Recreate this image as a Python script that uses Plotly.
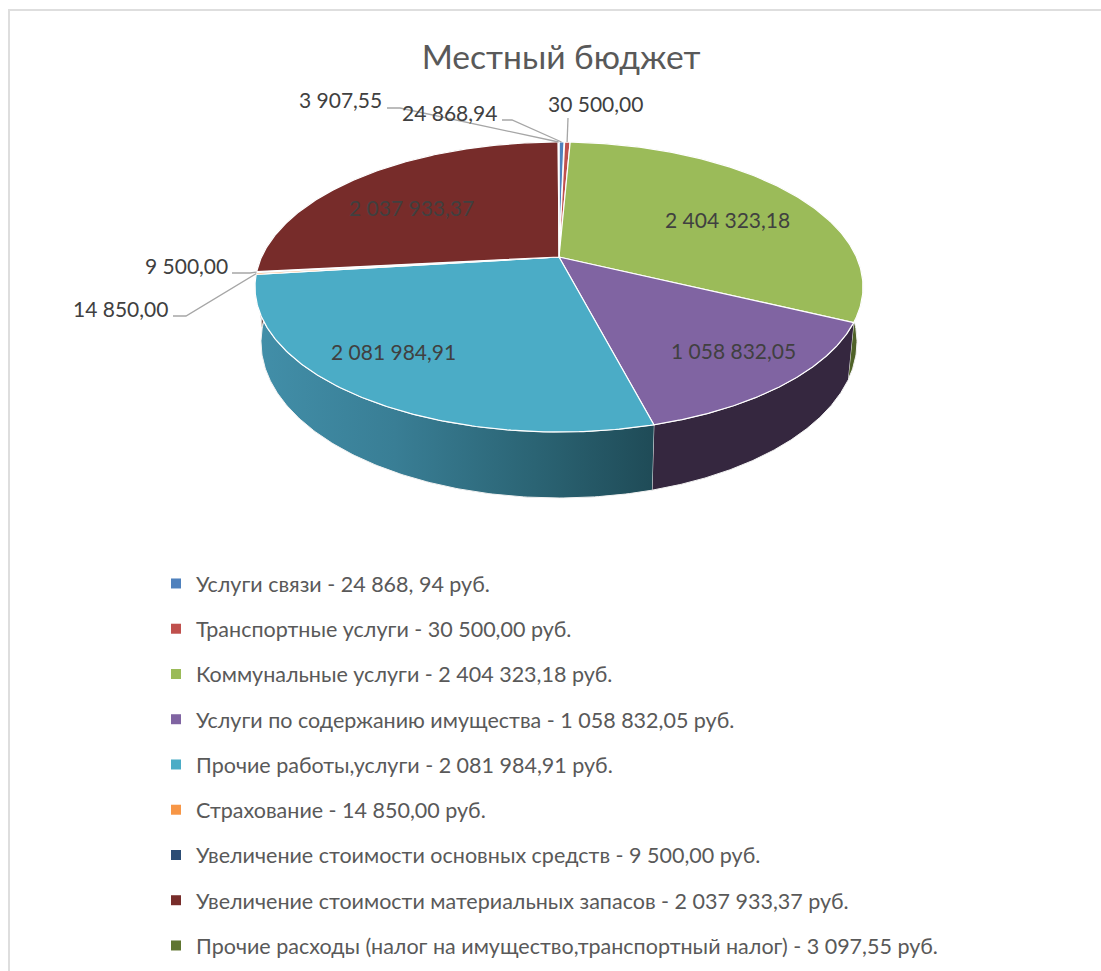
import numpy as np
import plotly.graph_objects as go

# ---------- data ----------
categories = [
    "Услуги связи - 24 868, 94 руб.",
    "Транспортные услуги - 30 500,00 руб.",
    "Коммунальные услуги - 2 404 323,18 руб.",
    "Услуги по содержанию имущества - 1 058 832,05 руб.",
    "Прочие работы,услуги - 2 081 984,91 руб.",
    "Страхование - 14 850,00 руб.",
    "Увеличение стоимости основных средств - 9 500,00 руб.",
    "Увеличение стоимости материальных запасов - 2 037 933,37 руб.",
    "Прочие расходы (налог на имущество,транспортный налог) - 3 097,55 руб.",
]
values = [24868.94, 30500.00, 2404323.18, 1058832.05, 2081984.91,
          14850.00, 9500.00, 2037933.37, 3907.55]
colors = ["#4f81bd", "#c0504d", "#9bbb59", "#8064a2", "#4bacc6",
          "#f79646", "#2c4d75", "#772c2a", "#5f7530"]
wall_colors = ["#2f4d71", "#73302e", "#4f6228", "#35273f", "#2d6b7c",
               "#945a2a", "#1a2e46", "#471a19", "#394619"]

# ---------- projection of the tilted disc ----------
TILT = 0.207
TOP = dict(cx=559, cy=287, rx=304, ry=145)
BOTTOM = dict(cx=559, cy=342, rx=298, ry=156)


def rim(theta, e):
    u, v = np.sin(theta), np.cos(theta)
    d = 1 + TILT * v
    return (e["cx"] + e["rx"] * u * np.sqrt(1 - TILT ** 2) / d,
            e["cy"] - e["ry"] * (v + TILT) / d)


hub_x, hub_y = TOP["cx"], TOP["cy"] - TOP["ry"] * TILT
angles = np.concatenate([[0], np.cumsum(values)]) / np.sum(values) * 2 * np.pi
mids = (angles[:-1] + angles[1:]) / 2

fig = go.Figure()

# side walls
for i in range(len(values)):
    t = np.linspace(angles[i], angles[i + 1], 160)
    x1, y1 = rim(t, TOP)
    x2, y2 = rim(t[::-1], BOTTOM)
    kw = dict(fillcolor=wall_colors[i])
    if i == 4:
        kw = dict(fillgradient=dict(
            type="horizontal",
            colorscale=[[0, "#428fa9"], [0.35, "#397e95"], [0.7, "#2b6474"], [1, "#1f4b57"]]))
    fig.add_trace(go.Scatter(
        x=np.r_[x1, x2], y=np.r_[y1, y2], mode="lines", fill="toself",
        line=dict(color="#f2f2f2", width=1), hoverinfo="skip", showlegend=False, **kw))

# top faces
for i in range(len(values)):
    t = np.linspace(angles[i], angles[i + 1], 160)
    x, y = rim(t, TOP)
    fig.add_trace(go.Scatter(
        x=np.r_[hub_x, x, hub_x], y=np.r_[hub_y, y, hub_y], mode="lines", fill="toself",
        fillcolor=colors[i], line=dict(color="white", width=1.2),
        name=categories[i], hoverinfo="name", showlegend=False))

# legend entries
for i, name in enumerate(categories):
    fig.add_trace(go.Scatter(
        x=[None], y=[None], mode="markers", name=name, legendgroup=name,
        marker=dict(symbol="square", size=10, color=colors[i])))

# leader lines: (slice index, label-side waypoints)
leaders = [
    (8, [387, 400], [108, 108]),
    (0, [502, 512], [120, 120]),
    (1, [568, 568], [118, 118]),
    (6, [232, 250], [273, 273]),
    (5, [173, 186], [316, 316]),
]
for i, lx, ly in leaders:
    ax, ay = rim(mids[i], TOP)
    fig.add_trace(go.Scatter(
        x=lx + [float(ax)], y=ly + [float(ay)], mode="lines",
        line=dict(color="#a6a6a6", width=1.3), hoverinfo="skip", showlegend=False))


def money(v):
    return f"{v:,.2f}".replace(",", " ").replace(".", ",")


label_pos = [(449, 112), (595, 103.5), (727, 219), (733, 350), (393, 351),
             (120, 308), (186, 265), (411, 207), (340, 99.5)]
FONT = "Lato, 'Noto Sans', sans-serif"
annotations = [dict(x=p[0], y=p[1], xref="x", yref="y", text=money(v), showarrow=False,
                    font=dict(family=FONT, size=21, color="#404040"))
               for v, p in zip(values, label_pos)]

fig.update_layout(
    width=1101, height=971,
    margin=dict(l=0, r=0, t=0, b=0, pad=0, autoexpand=False),
    paper_bgcolor="white", plot_bgcolor="white", annotations=annotations,
    title=dict(text="Местный бюджет", x=561 / 1101, xanchor="center", y=1 - 57 / 971,
               yanchor="middle", font=dict(family=FONT, size=33.6, color="#595959")),
    xaxis=dict(range=[0, 1101], visible=False, fixedrange=True),
    yaxis=dict(range=[971, 0], visible=False, fixedrange=True),
    legend=dict(x=156 / 1101, y=1 - 563 / 971, xanchor="left", yanchor="top",
                font=dict(family=FONT, size=21.5, color="#595959"),
                tracegroupgap=14.3, itemclick=False, itemdoubleclick=False,
                bgcolor="rgba(0,0,0,0)"),
    shapes=[dict(type="line", xref="x", yref="y", x0=9, x1=9, y0=10, y1=971,
                 line=dict(color="#dedede", width=2)),
            dict(type="line", xref="x", yref="y", x0=8, x1=1101, y0=10, y1=10,
                 line=dict(color="#dedede", width=2))],
)
fig.write_html("out.html", config={"displayModeBar": False},
               post_script="document.body.style.margin='0';document.body.style.overflow='hidden';")
